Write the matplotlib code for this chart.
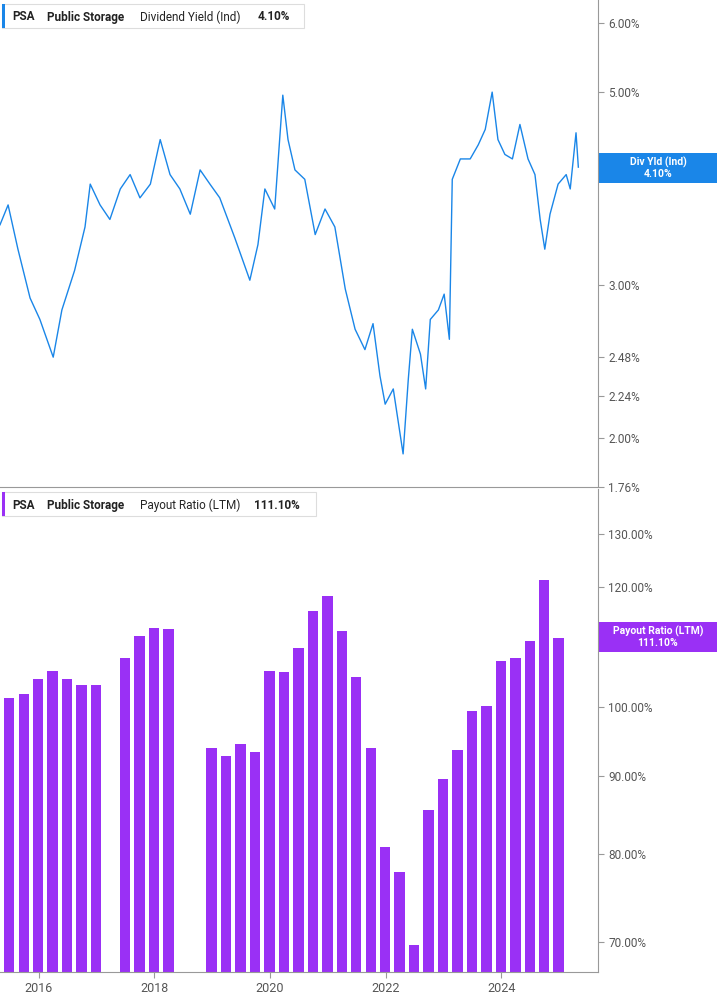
import matplotlib
matplotlib.use("Agg")
import matplotlib.pyplot as plt
import matplotlib.ticker as mt

plt.rcParams["font.family"] = "Roboto"

# Dividend yield (fractional year, %)
yld_x = [2015.33,2015.47,2015.64,2015.85,2016.02,2016.25,2016.40,2016.62,2016.80,2016.89,2017.06,2017.23,2017.41,2017.58,2017.75,2017.93,2018.10,2018.27,2018.44,2018.62,2018.79,2018.96,2019.13,2019.39,2019.65,2019.79,2019.91,2020.08,2020.22,2020.22,2020.31,2020.43,2020.60,2020.78,2020.95,2021.12,2021.30,2021.47,2021.64,2021.78,2021.90,2021.99,2022.13,2022.30,2022.39,2022.46,2022.60,2022.69,2022.77,2022.91,2023.01,2023.10,2023.15,2023.29,2023.46,2023.60,2023.72,2023.84,2023.94,2024.06,2024.19,2024.32,2024.46,2024.58,2024.67,2024.75,2024.84,2024.98,2025.12,2025.19,2025.29,2025.33]
yld_v = [3.52,3.71,3.30,2.90,2.74,2.48,2.81,3.12,3.50,3.92,3.71,3.57,3.87,4.02,3.78,3.92,4.41,4.02,3.87,3.62,4.07,3.92,3.78,3.40,3.04,3.34,3.87,3.67,4.96,4.96,4.41,4.07,3.97,3.43,3.67,3.50,2.97,2.67,2.53,2.71,2.36,2.19,2.28,1.92,2.34,2.67,2.50,2.28,2.74,2.81,2.93,2.60,3.97,4.19,4.19,4.35,4.53,5.00,4.41,4.24,4.19,4.59,4.19,4.02,3.57,3.30,3.62,3.92,4.02,3.87,4.49,4.10]

# Payout ratio (quarter, %), None = missing
pay_x = [2015.49 + 0.25*i for i in range(40)]
pay_v = [101.4,102.0,104.3,105.6,104.3,103.4,103.4,None,107.8,111.3,112.8,112.5,None,None,
         94.0,92.9,94.6,93.4,105.6,105.4,109.3,115.6,118.3,112.3,104.6,94.0,80.9,77.9,69.7,
         85.5,89.7,93.7,99.4,100.2,107.2,107.7,110.6,121.3,111.1,None]

BLUE = "#1a86e8"
PURPLE = "#9a30f5"
GRAY = "#555555"

fig = plt.figure(figsize=(7.17, 10.05), dpi=100)
ax1 = fig.add_axes([0, 1-487/1005, 598/717, 487/1005])
ax2 = fig.add_axes([0, 1-972/1005, 598/717, (972-489)/1005])

for ax in (ax1, ax2):
    ax.set_xlim(2015.33, 2025.67)
    ax.yaxis.tick_right()
    for s in ("top", "left"):
        ax.spines[s].set_visible(False)
    ax.spines["right"].set_color("#999999")
    ax.spines["bottom"].set_color("#999999")
    ax.tick_params(axis="y", colors=GRAY, labelsize=8.5, length=4, color="#999999")
    ax.tick_params(axis="x", colors=GRAY, labelsize=9, length=4, color="#999999")
    ax.set_xticks([2016, 2018, 2020, 2022, 2024])

ax1.plot(yld_x, yld_v, color=BLUE, lw=1.0)
ax1.set_yscale("log")
ax1.set_ylim(1.759, 6.38)
yt1 = [1.76, 2.00, 2.24, 2.48, 3.00, 5.00, 6.00]
ax1.yaxis.set_major_locator(mt.FixedLocator(yt1))
ax1.yaxis.set_minor_locator(mt.NullLocator())
ax1.yaxis.set_major_formatter(mt.FixedFormatter([f"{v:.2f}%" for v in yt1]))
ax1.set_xticklabels([])
ax1.tick_params(axis="x", length=0)

px = [x for x, v in zip(pay_x, pay_v) if v is not None]
pv = [v for v in pay_v if v is not None]
ax2.bar(px, pv, width=0.18, color=PURPLE, bottom=0)
ax2.set_yscale("log")
ax2.set_ylim(66.9, 139.2)
yt2 = [70, 80, 90, 100, 120, 130]
ax2.yaxis.set_major_locator(mt.FixedLocator(yt2))
ax2.yaxis.set_minor_locator(mt.NullLocator())
ax2.yaxis.set_major_formatter(mt.FixedFormatter([f"{v:.2f}%" for v in yt2]))

def header(y, metric, val, color, w, vx):
    fig.patches.append(plt.Rectangle((2/717, y-11/1005), w/717, 24/1005, transform=fig.transFigure,
                                     fc="white", ec="#dddddd", lw=0.8))
    fig.patches.append(plt.Rectangle((2/717, y-11/1005), 3/717, 24/1005, transform=fig.transFigure,
                                     fc=color, ec="none"))
    kw = dict(fontsize=8.5, va="center", color="#222222")
    fig.text(12/717, y, "PSA", fontweight="bold", **kw)
    fig.text(47/717, y, "Public Storage", fontweight="bold", **kw)
    fig.text(140/717, y, metric, **kw)
    fig.text(vx/717, y, val, fontweight="bold", **kw)

header(1-17/1005, "Dividend Yield (Ind)", "4.10%", BLUE, 302, 258)
header(1-505/1005, "Payout Ratio (LTM)", "111.10%", PURPLE, 314, 254)

def flag(yc, l1, l2, color):
    fig.patches.append(plt.Rectangle((599/717, (1005-yc-15)/1005), 118/717, 30/1005,
                                     transform=fig.transFigure, fc=color, ec="none", zorder=5))
    fig.text(658/717, (1005-yc+6)/1005, l1, fontsize=7.5, fontweight="bold", color="white", ha="center", va="center", zorder=6)
    fig.text(658/717, (1005-yc-6)/1005, l2, fontsize=7.5, fontweight="bold", color="white", ha="center", va="center", zorder=6)

flag(168, "Div Yld (Ind)", "4.10%", BLUE)
flag(637, "Payout Ratio (LTM)", "111.10%", PURPLE)

fig.savefig("out.png", dpi=100)
